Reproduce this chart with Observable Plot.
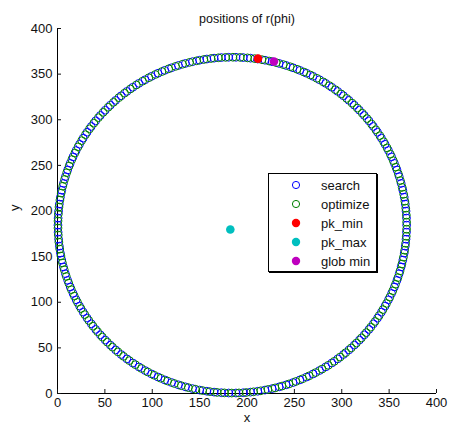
<!DOCTYPE html>
<html>
<head>
<meta charset="utf-8">
<script src="https://cdn.jsdelivr.net/npm/d3@7"></script>
<script src="https://cdn.jsdelivr.net/npm/@observablehq/plot@0.6"></script>
<style>
  html, body { margin: 0; padding: 0; background: #fff; }
  #chart { position: relative; width: 449px; height: 432px; font-family: "Liberation Sans", Arial, Helvetica, sans-serif; }
  #legend {
    position: absolute; left: 268px; top: 173px; width: 107px; height: 97px;
    border: 1px solid #000; background: #fff; box-shadow: 1px 1px 0 #000;
    font-size: 13px; color: #111;
  }
  #legend .row { position: absolute; left: 0; height: 19px; line-height: 19px; }
  #legend svg { position: absolute; left: 22px; top: 4px; }
  #legend span { position: absolute; left: 52px; white-space: nowrap; }
</style>
</head>
<body>
<div id="chart"></div>
<script>
// Sample angles (degrees) of r(phi) for the two passes
const searchPhi = [
  0,2.4,4.8,7.2,9.6, 12,14.4,16.8,19.2,21.6, 24,26.4,28.8,31.2,33.6,
  36,38.4,40.8,43.2,45.6, 48,50.4,52.8,55.2,57.6, 60,62.4,64.8,67.2,69.6,
  72,74.4,76.8,79.2,81.6, 84,86.4,88.8,91.2,93.6, 96,98.4,100.8,103.2,105.6,
  108,110.4,112.8,115.2,117.6, 120,122.4,124.8,127.2,129.6, 132,134.4,136.8,139.2,141.6,
  144,146.4,148.8,151.2,153.6, 156,158.4,160.8,163.2,165.6, 168,170.4,172.8,175.2,177.6,
  180,182.4,184.8,187.2,189.6, 192,194.4,196.8,199.2,201.6, 204,206.4,208.8,211.2,213.6,
  216,218.4,220.8,223.2,225.6, 228,230.4,232.8,235.2,237.6, 240,242.4,244.8,247.2,249.6,
  252,254.4,256.8,259.2,261.6, 264,266.4,268.8,271.2,273.6, 276,278.4,280.8,283.2,285.6,
  288,290.4,292.8,295.2,297.6, 300,302.4,304.8,307.2,309.6, 312,314.4,316.8,319.2,321.6,
  324,326.4,328.8,331.2,333.6, 336,338.4,340.8,343.2,345.6, 348,350.4,352.8,355.2,357.6
];
const optimizePhi = [
  1,3.4,5.8,8.2,10.6, 13,15.4,17.8,20.2,22.6, 25,27.4,29.8,32.2,34.6,
  37,39.4,41.8,44.2,46.6, 49,51.4,53.8,56.2,58.6, 61,63.4,65.8,68.2,70.6,
  73,75.4,77.8,80.2,82.6, 85,87.4,89.8,92.2,94.6, 97,99.4,101.8,104.2,106.6,
  109,111.4,113.8,116.2,118.6, 121,123.4,125.8,128.2,130.6, 133,135.4,137.8,140.2,142.6,
  145,147.4,149.8,152.2,154.6, 157,159.4,161.8,164.2,166.6, 169,171.4,173.8,176.2,178.6,
  181,183.4,185.8,188.2,190.6, 193,195.4,197.8,200.2,202.6, 205,207.4,209.8,212.2,214.6,
  217,219.4,221.8,224.2,226.6, 229,231.4,233.8,236.2,238.6, 241,243.4,245.8,248.2,250.6,
  253,255.4,257.8,260.2,262.6, 265,267.4,269.8,272.2,274.6, 277,279.4,281.8,284.2,286.6,
  289,291.4,293.8,296.2,298.6, 301,303.4,305.8,308.2,310.6, 313,315.4,317.8,320.2,322.6,
  325,327.4,329.8,332.2,334.6, 337,339.4,341.8,344.2,346.6, 349,351.4,353.8,356.2,358.6
];
const radius = 184;
const centerX = 184.5;
const centerY = 184.5;

// Special points
const pkMin = [{x: 211.6, y: 367.0}];
const pkMax = [{x: 182.4, y: 179.7}];
const globMin = [{x: 228.4, y: 363.8}];

const xTicks = [0, 50, 100, 150, 200, 250, 300, 350, 400];
const yTicks = [0, 50, 100, 150, 200, 250, 300, 350, 400];

const toXY = phi => ({
  x: centerX + radius * Math.cos(phi * Math.PI / 180),
  y: centerY + radius * Math.sin(phi * Math.PI / 180)
});
const search = searchPhi.map(toXY);
const optimize = optimizePhi.map(toXY);

const font = '"Liberation Sans", Arial, Helvetica, sans-serif';

const plot = Plot.plot({
  width: 449,
  height: 432,
  marginLeft: 57,
  marginRight: 13,
  marginTop: 28,
  marginBottom: 39,
  style: {fontFamily: font, fontSize: "13px", color: "#111", background: "#fff", overflow: "visible"},
  x: {domain: [0, 400]},
  y: {domain: [0, 400]},
  marks: [
    Plot.ruleX([0], {stroke: "#000"}),
    Plot.ruleY([0], {stroke: "#000"}),
    Plot.axisX({ticks: xTicks, tickSize: -4, tickPadding: 8, label: null, tickFormat: d => String(d)}),
    Plot.axisY({ticks: yTicks, tickSize: -4, tickPadding: 9, label: null, tickFormat: d => String(d)}),
    Plot.text(["x"], {frameAnchor: "bottom", dy: 28, fontSize: 13}),
    Plot.text(["y"], {frameAnchor: "left", dx: -43, rotate: -90, fontSize: 13}),
    Plot.text(["positions of r(phi)"], {frameAnchor: "top", dy: -14, fontSize: 12.5}),
    Plot.dot(search, {x: "x", y: "y", r: 3.9, stroke: "#0000ff", strokeWidth: 1, fill: "none"}),
    Plot.dot(optimize, {x: "x", y: "y", r: 3.9, stroke: "#007f00", strokeWidth: 1, fill: "none"}),
    Plot.dot(pkMin, {x: "x", y: "y", r: 4.3, fill: "#ff0000", stroke: "none"}),
    Plot.dot(pkMax, {x: "x", y: "y", r: 4.3, fill: "#00bfbf", stroke: "none"}),
    Plot.dot(globMin, {x: "x", y: "y", r: 4.3, fill: "#bf00bf", stroke: "none"})
  ]
});

const chart = document.getElementById("chart");
chart.appendChild(plot);

// Legend
const legendItems = [
  {label: "search", color: "#0000ff", filled: false},
  {label: "optimize", color: "#007f00", filled: false},
  {label: "pk_min", color: "#ff0000", filled: true},
  {label: "pk_max", color: "#00bfbf", filled: true},
  {label: "glob min", color: "#bf00bf", filled: true}
];
const legend = document.createElement("div");
legend.id = "legend";
legendItems.forEach((item, i) => {
  const row = document.createElement("div");
  row.className = "row";
  row.style.top = (1.5 + i * 19) + "px";
  row.style.width = "100%";
  const circle = item.filled
    ? `<circle cx="5" cy="5" r="4.2" fill="${item.color}"/>`
    : `<circle cx="5" cy="5" r="3.6" fill="none" stroke="${item.color}" stroke-width="1"/>`;
  row.innerHTML = `<svg width="10" height="10">${circle}</svg><span>${item.label}</span>`;
  legend.appendChild(row);
});
chart.appendChild(legend);
</script>
</body>
</html>
